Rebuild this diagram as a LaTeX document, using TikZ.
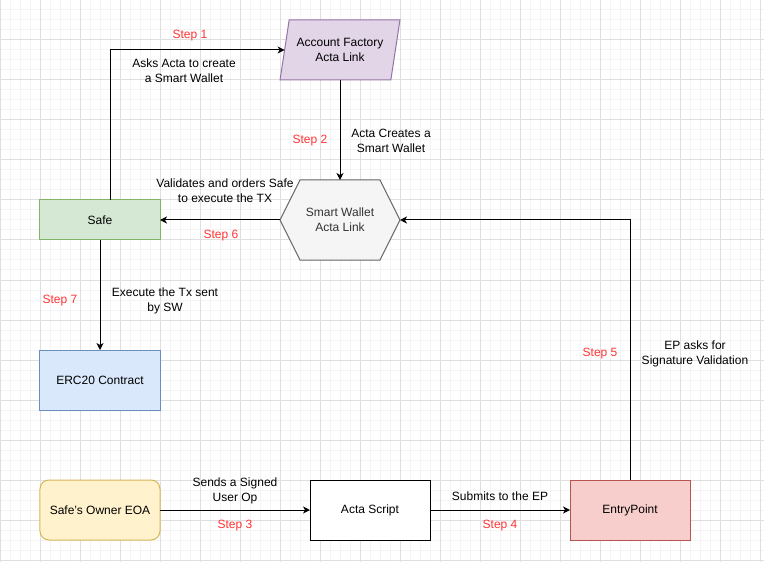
\documentclass[tikz,border=0pt]{standalone}
\usepackage{fontspec}
\setmainfont{Liberation Sans}
\usetikzlibrary{arrows.meta,positioning,shapes.geometric,shapes.symbols}

\definecolor{safefill}{HTML}{D5E8D4}
\definecolor{safeline}{HTML}{82B366}
\definecolor{factoryfill}{HTML}{E1D5E7}
\definecolor{factoryline}{HTML}{9673A6}
\definecolor{walletfill}{HTML}{F5F5F5}
\definecolor{walletline}{HTML}{666666}
\definecolor{wallettext}{HTML}{333333}
\definecolor{ercfill}{HTML}{DAE8FC}
\definecolor{ercline}{HTML}{6C8EBF}
\definecolor{eoafill}{HTML}{FFF2CC}
\definecolor{eoaline}{HTML}{D6B656}
\definecolor{entryfill}{HTML}{F8CECC}
\definecolor{entryline}{HTML}{B85450}
\definecolor{stepred}{HTML}{FF3333}

\tikzset{
    every node/.style={color=black, font=\fontsize{12bp}{15bp}\selectfont},
    every path/.style={color=black}
}

\begin{document}
\begin{tikzpicture}[
        x=1bp, y=-1bp,
        line width=1bp,
        >={Stealth[length=7bp, width=7bp, inset=2bp]},
        box/.style={rectangle, draw, minimum width=120bp, minimum height=60bp, inner sep=2bp, outer sep=0pt, align=center},
        factorybox/.style={trapezium, trapezium left angle=71.57, trapezium right angle=108.43,
            trapezium stretches=true, draw=factoryline, fill=factoryfill,
            minimum width=120bp, minimum height=60bp, inner sep=0pt, outer sep=0pt, align=center},
        walletbox/.style={signal, signal to=west and east, signal pointer angle=126.87,
            draw=walletline, fill=walletfill, text=wallettext,
            minimum width=120bp, minimum height=80bp, inner sep=0pt, outer sep=0pt, align=center},
        steplabel/.style={text=stepred},
        annot/.style={align=center}
    ]

    % Background grid
    \useasboundingbox (0,0) rectangle (764,562);
    \foreach \x in {0,10,...,760}
        \draw[gray!9, line width=1bp] (\x,0) -- (\x,562);
    \foreach \y in {0,10,...,560}
        \draw[gray!9, line width=1bp] (0,\y) -- (764,\y);
    \foreach \x in {0,40,...,760}
        \draw[gray!25, line width=1bp] (\x,0) -- (\x,562);
    \foreach \y in {0,40,...,560}
        \draw[gray!25, line width=1bp] (0,\y) -- (764,\y);

    % Nodes
    \node[box, draw=safeline, fill=safefill, minimum height=40bp] (safe) at (100,220) {Safe};
    \node[walletbox, right=120bp of safe] (wallet) {Smart Wallet\\Acta Link};
    \node[factorybox, above=100bp of wallet] (factory) {Account Factory\\Acta Link};
    \node[box, draw=ercline, fill=ercfill, below=110bp of safe] (erc) {ERC20 Contract};
    \node[box, draw=eoaline, fill=eoafill, rounded corners=9bp, below=70bp of erc] (eoa) {Safe's Owner EOA};
    \node[box, fill=white, right=150bp of eoa] (script) {Acta Script};
    \node[box, draw=entryline, fill=entryfill, right=140bp of script] (entry) {EntryPoint};

    % Annotations
    \node[steplabel] (step1) at (190,36) {Step 1};
    \node[annot] (asks) at (184,71) {Asks Acta to create\\a Smart Wallet};
    \node[steplabel] (step2) at (310,141) {Step 2};
    \node[annot] (creates) at (391,141) {Acta Creates a\\Smart Wallet};
    \node[steplabel] (step3) at (235,526) {Step 3};
    \node[annot] (sends) at (235,491) {Sends a Signed\\User Op};
    \node[steplabel] (step4) at (500,526) {Step 4};
    \node[annot] (submits) at (500,496) {Submits to the EP};
    \node[steplabel] (step5) at (600,354) {Step 5};
    \node[annot] (asksep) at (695,354) {EP asks for\\Signature Validation};
    \node[steplabel] (step6) at (221,236) {Step 6};
    \node[annot] (validates) at (225,191) {Validates and orders Safe\\to execute the TX};
    \node[steplabel] (step7) at (60,301) {Step 7};
    \node[annot] (execute) at (165,301) {Execute the Tx sent\\by SW};

    % Connections
    \draw[->] ([xshift=10bp]safe.north) |- (factory.west);
    \draw[->] (factory.south) -- (wallet.north);
    \draw[->] (wallet.west) -- (safe.east);
    \draw[->] (safe.south) -- (erc.north);
    \draw[->] (eoa) -- (script);
    \draw[->] (script) -- (entry);
    \draw[->] (entry.north) |- (wallet.east);

\end{tikzpicture}
\end{document}
